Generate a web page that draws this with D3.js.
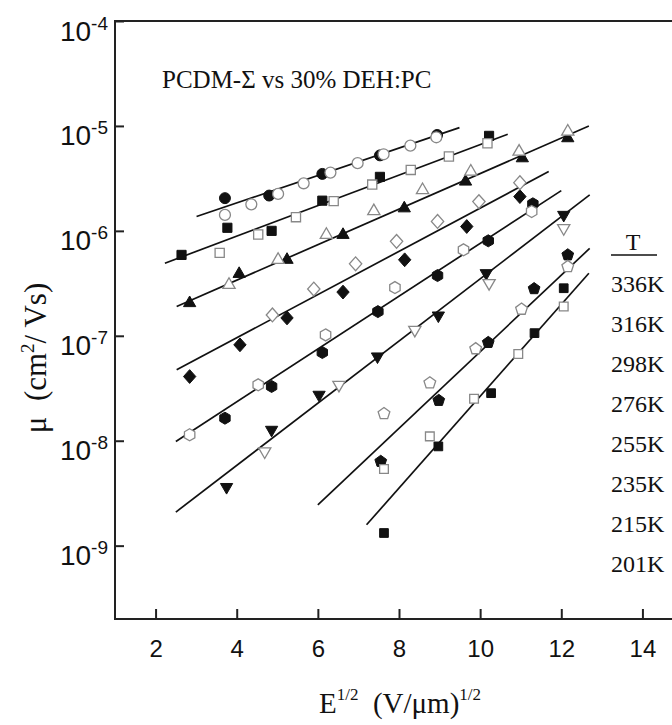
<!DOCTYPE html>
<html>
<head>
<meta charset="utf-8">
<script src="https://cdn.jsdelivr.net/npm/d3@7"></script>
<style>
  body { margin: 0; background: #fff; }
  text { fill: #111; }
</style>
</head>
<body>
<script>

// temperatures, one fit line and two marker sets (filled / open) each
var temps = ["336K", "316K", "298K", "276K", "255K", "235K", "215K", "201K"];

// E^1/2 (V/um)^1/2 and mobility (cm2/Vs), filled markers
var filledE = [
  [3.71, 4.80, 6.11, 7.53, 8.94],
  [2.64, 3.77, 4.86, 6.11, 7.53, 10.22],
  [2.84, 4.06, 5.24, 6.62, 8.13, 9.64, 11.04, 12.16],
  [2.84, 4.08, 5.24, 6.62, 8.14, 9.67, 10.98],
  [3.71, 4.86, 6.11, 7.48, 8.95, 10.20, 11.30],
  [3.75, 4.86, 6.03, 7.47, 8.97, 10.15, 12.06],
  [7.55, 8.98, 10.20, 11.33, 12.16],
  [7.63, 8.97, 10.27, 11.34, 12.06]
];
var filledMu = [
  [2.05e-6, 2.17e-6, 3.49e-6, 5.24e-6, 8.20e-6],
  [5.90e-7, 1.07e-6, 1.00e-6, 1.94e-6, 3.27e-6, 8.04e-6],
  [2.05e-7, 3.89e-7, 5.30e-7, 9.16e-7, 1.64e-6, 2.95e-6, 4.92e-6, 7.64e-6],
  [4.09e-8, 8.20e-8, 1.48e-7, 2.61e-7, 5.30e-7, 1.10e-6, 2.12e-6],
  [1.64e-8, 3.29e-8, 6.93e-8, 1.70e-7, 3.75e-7, 8.04e-7, 1.81e-6],
  [3.62e-9, 1.27e-8, 2.74e-8, 6.35e-8, 1.56e-7, 3.95e-7, 1.42e-6],
  [6.35e-9, 2.42e-8, 8.63e-8, 2.81e-7, 5.90e-7],
  [1.32e-9, 8.83e-9, 2.84e-8, 1.06e-7, 2.84e-7]
];

// open markers
var openE = [
  [3.71, 4.36, 5.02, 5.65, 6.31, 6.98, 7.62, 8.28, 8.92],
  [3.58, 4.53, 5.46, 6.39, 7.34, 8.29, 9.23, 10.18],
  [3.81, 5.02, 6.21, 7.38, 8.58, 9.77, 10.96, 12.16],
  [4.88, 5.90, 6.93, 7.94, 8.95, 9.97, 10.98],
  [2.84, 4.53, 6.19, 7.90, 9.59, 11.27],
  [4.69, 6.52, 8.39, 10.22, 12.06],
  [7.63, 8.76, 9.89, 11.02, 12.16],
  [7.63, 8.76, 9.85, 10.94, 12.06]
];
var openMu = [
  [1.42e-6, 1.79e-6, 2.25e-6, 2.84e-6, 3.59e-6, 4.42e-6, 5.37e-6, 6.49e-6, 7.80e-6],
  [6.17e-7, 9.23e-7, 1.35e-6, 1.92e-6, 2.76e-6, 3.81e-6, 5.11e-6, 6.84e-6],
  [3.06e-7, 5.30e-7, 9.16e-7, 1.54e-6, 2.45e-6, 3.67e-6, 5.69e-6, 8.83e-6],
  [1.58e-7, 2.79e-7, 4.85e-7, 7.94e-7, 1.23e-6, 1.90e-6, 2.88e-6],
  [1.14e-8, 3.41e-8, 1.02e-7, 2.88e-7, 6.59e-7, 1.53e-6],
  [7.91e-9, 3.41e-8, 1.14e-7, 3.18e-7, 1.06e-6],
  [1.81e-8, 3.56e-8, 7.52e-8, 1.79e-7, 4.57e-7],
  [5.37e-9, 1.10e-8, 2.51e-8, 6.70e-8, 1.90e-7]
];

// fit lines: start / end
var fitE = [[3.01, 9.49], [2.23, 10.68], [2.52, 12.68], [2.52, 11.69],
            [2.50, 12.00], [2.50, 12.70], [6.00, 12.70], [7.20, 12.68]];
var fitMu = [[1.37e-6, 9.64e-6], [4.92e-7, 8.34e-6], [1.90e-7, 1.00e-5], [4.74e-8, 3.67e-6],
             [9.84e-9, 2.42e-6], [2.09e-9, 2.20e-6], [2.45e-9, 6.81e-7], [1.58e-9, 3.95e-7]];

var xTicks = [2, 4, 6, 8, 10, 12, 14];
var yTicks = [1e-4, 1e-5, 1e-6, 1e-7, 1e-8, 1e-9];
var yTickExp = ["-4", "-5", "-6", "-7", "-8", "-9"];


var margin = {top: 21, left: 115},
    width = 568,
    height = 598;

var svg = d3.select("body").append("svg")
    .attr("width", 672)
    .attr("height", 725)
  .append("g")
    .attr("transform", "translate(" + margin.left + "," + margin.top + ")");

var x = d3.scaleLinear().domain([1, 15]).range([0, width]);
var y = d3.scaleLog().domain([2e-10, 1e-4]).range([height, 0]);

// marker shapes
function polygon(n, angle, sy) {
  return {draw: function(context, size) {
    var r = Math.sqrt(size);
    for (var i = 0; i < n; i++) {
      var a = angle + 2 * Math.PI * i / n;
      var px = r * Math.cos(a), py = r * Math.sin(a) * (sy || 1);
      if (i === 0) context.moveTo(px, py); else context.lineTo(px, py);
    }
    context.closePath();
  }};
}
var circle = {draw: function(context, size) {
  var r = Math.sqrt(size);
  context.moveTo(r, 0);
  context.arc(0, 0, r, 0, 2 * Math.PI);
}};
var markerTypes = [circle, polygon(4, Math.PI / 4), polygon(3, -Math.PI / 2), polygon(4, -Math.PI / 2, 1.12),
                   polygon(6, -Math.PI / 2), polygon(3, Math.PI / 2), polygon(5, -Math.PI / 2), polygon(4, Math.PI / 4)];
var markerSize = [30, 42, 50, 38, 36, 50, 38, 38];

// frame
svg.append("rect")
    .attr("x", 0).attr("y", 0)
    .attr("width", width).attr("height", height)
    .attr("fill", "none")
    .attr("stroke", "#222")
    .attr("stroke-width", 2);

// x axis
var xAxis = svg.append("g")
    .attr("transform", "translate(0," + height + ")")
    .call(d3.axisBottom(x).tickValues(xTicks).tickSizeInner(-10).tickSizeOuter(0).tickPadding(21));
xAxis.select(".domain").remove();
xAxis.selectAll(".tick line").attr("stroke", "#222").attr("stroke-width", 2);
xAxis.selectAll(".tick text")
    .attr("font-family", "Liberation Sans, Arial, sans-serif")
    .attr("font-size", "24px")
    .attr("fill", "#111");

// y axis, labels as 10 with superscript exponent
var yAxis = svg.append("g")
    .call(d3.axisLeft(y).tickValues(yTicks).tickSizeInner(-9).tickSizeOuter(0).tickFormat(""));
yAxis.select(".domain").remove();
yAxis.selectAll(".tick line").attr("stroke", "#222").attr("stroke-width", 2);
yAxis.selectAll(".tick text").remove();
yAxis.selectAll(".tick").each(function(d, i) {
  var t = d3.select(this).append("text")
      .attr("x", -7)
      .attr("y", 19)
      .attr("text-anchor", "end")
      .attr("font-family", "Liberation Sans, Arial, sans-serif")
      .attr("fill", "#111");
  t.append("tspan").attr("font-size", "28px").text("10");
  t.append("tspan").attr("font-size", "19px").attr("dy", -11).text(yTickExp[i]);
});

// fit lines
var line = d3.line()
    .x(function(d) { return x(d[0]); })
    .y(function(d) { return y(d[1]); });

svg.selectAll(".fit")
    .data(temps)
  .enter().append("path")
    .attr("class", "fit")
    .attr("d", function(d, i) { return line([[fitE[i][0], fitMu[i][0]], [fitE[i][1], fitMu[i][1]]]); })
    .attr("fill", "none")
    .attr("stroke", "#111")
    .attr("stroke-width", 1.7);

// markers
function drawMarkers(eArr, muArr, filled) {
  temps.forEach(function(t, i) {
    var pts = eArr[i].map(function(e, j) { return [e, muArr[i][j]]; });
    svg.selectAll(".m" + (filled ? "f" : "o") + i)
        .data(pts)
      .enter().append("path")
        .attr("class", "m" + (filled ? "f" : "o") + i)
        .attr("transform", function(d) { return "translate(" + x(d[0]) + "," + y(d[1]) + ")"; })
        .attr("d", d3.symbol().type(markerTypes[i]).size(markerSize[i]))
        .attr("fill", filled ? "#111" : "#fff")
        .attr("stroke", filled ? "#111" : "#888")
        .attr("stroke-width", filled ? 1 : 1.3);
  });
}
drawMarkers(filledE, filledMu, true);
drawMarkers(openE, openMu, false);

// title
svg.append("text")
    .attr("x", 47)
    .attr("y", 67)
    .attr("font-family", "Liberation Serif, Times New Roman, serif")
    .attr("font-size", "25px")
    .text("PCDM-\u03A3 vs 30% DEH:PC");

// legend column
svg.append("text")
    .attr("x", 518)
    .attr("y", 229)
    .attr("text-anchor", "middle")
    .attr("font-family", "Liberation Serif, Times New Roman, serif")
    .attr("font-size", "24px")
    .text("T");
svg.append("line")
    .attr("x1", 496).attr("x2", 542)
    .attr("y1", 234).attr("y2", 234)
    .attr("stroke", "#111")
    .attr("stroke-width", 1.5);
svg.selectAll(".legend")
    .data(temps)
  .enter().append("text")
    .attr("class", "legend")
    .attr("x", 496)
    .attr("y", function(d, i) { return 270.5 + 40 * i; })
    .attr("font-family", "Liberation Serif, Times New Roman, serif")
    .attr("font-size", "24px")
    .text(function(d) { return d; });

// x axis title
var xt = svg.append("text")
    .attr("x", 285)
    .attr("y", 692)
    .attr("text-anchor", "middle")
    .attr("font-family", "Liberation Serif, Times New Roman, serif")
    .attr("font-size", "29px");
xt.append("tspan").text("E");
xt.append("tspan").attr("font-size", "17px").attr("dy", -13).text("1/2");
xt.append("tspan").attr("dy", 13).text("\u00a0\u00a0(V/\u03BCm)");
xt.append("tspan").attr("font-size", "17px").attr("dy", -13).text("1/2");

// y axis title
var yt = svg.append("text")
    .attr("transform", "translate(-69,337) rotate(-90)")
    .attr("text-anchor", "middle")
    .attr("font-family", "Liberation Serif, Times New Roman, serif")
    .attr("font-size", "31px");
yt.append("tspan").text("\u03BC\u00a0\u00a0(cm");
yt.append("tspan").attr("font-size", "19px").attr("dy", -12).text("2");
yt.append("tspan").attr("dy", 12).text("/ Vs)");

</script>
</body>
</html>
